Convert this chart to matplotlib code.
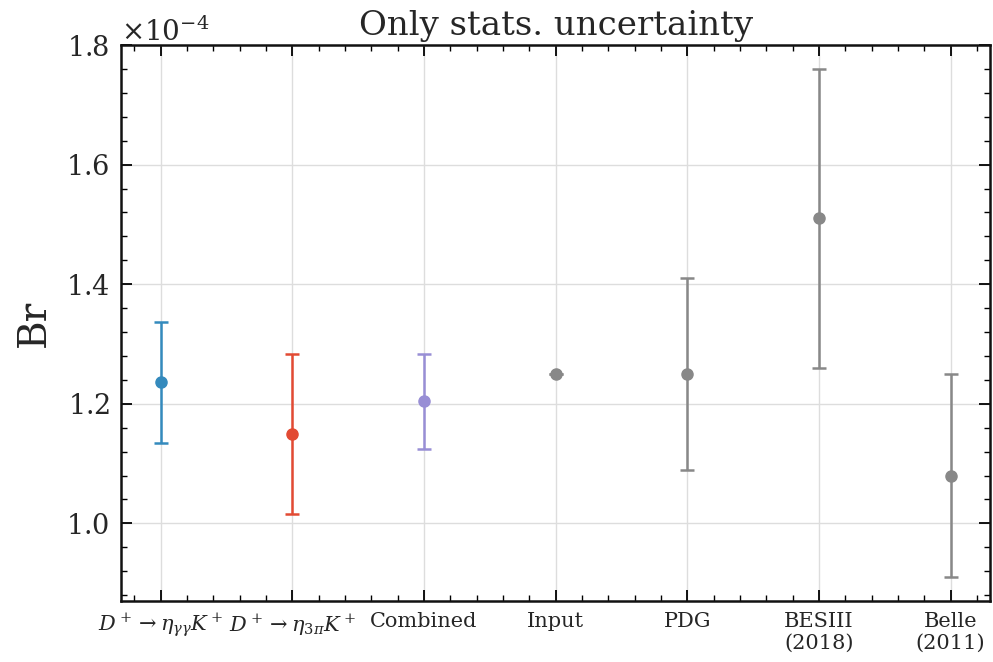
import matplotlib
matplotlib.use('Agg')
import matplotlib.pyplot as plt
from matplotlib.ticker import AutoMinorLocator, ScalarFormatter
import numpy as np

# data (in units of 1e-4)
labels = [r'$D^+ \to \eta_{\gamma\gamma} K^+$', r'$D^+ \to \eta_{3\pi} K^+$',
          'Combined', 'Input', 'PDG', 'BESIII\n(2018)', 'Belle\n(2011)']
values = [1.236, 1.149, 1.204, 1.25, 1.25, 1.51, 1.08]
errors = [0.101, 0.134, 0.080, 0.0, 0.16, 0.25, 0.17]
colors = ['#348ABD', '#E24A33', '#988ED5', '#888888', '#888888', '#888888', '#888888']

plt.rcParams['font.family'] = 'DejaVu Serif'
plt.rcParams['mathtext.fontset'] = 'dejavuserif'
plt.rcParams['text.color'] = '#262626'
plt.rcParams['axes.labelcolor'] = '#262626'
plt.rcParams['xtick.labelcolor'] = '#262626'
plt.rcParams['ytick.labelcolor'] = '#262626'

fig, ax = plt.subplots(figsize=(9.93, 6.62), dpi=100)

x = np.arange(len(labels))
for xi, v, e, c in zip(x, values, errors, colors):
    ax.errorbar(xi, v * 1e-4, yerr=e * 1e-4, fmt='o', color=c, ms=8,
                elinewidth=1.8, capsize=5, capthick=1.8)

ax.set_xlim(-0.3, 6.3)
ax.set_ylim(0.87e-4, 1.8e-4)
ax.set_xticks(x)
ax.set_xticklabels(labels)
ax.set_yticks(np.array([1.0, 1.2, 1.4, 1.6, 1.8]) * 1e-4)

fmt = ScalarFormatter(useMathText=True)
fmt.set_powerlimits((-3, 3))
ax.yaxis.set_major_formatter(fmt)
ax.yaxis.get_offset_text().set_fontsize(20)

ax.xaxis.set_minor_locator(AutoMinorLocator(5))
ax.yaxis.set_minor_locator(AutoMinorLocator(5))
ax.tick_params(which='both', direction='in', top=True, right=True)
ax.tick_params(which='major', length=8, width=1.3, labelsize=19.5)
ax.tick_params(axis='y', which='major', pad=8.5)
ax.tick_params(axis='x', which='major', labelsize=15, pad=8)
ax.tick_params(which='minor', length=4, width=1)
ax.grid(True, color='#dddddd', linewidth=1)
ax.set_axisbelow(True)
for s in ax.spines.values():
    s.set_linewidth(1.8)
    s.set_color('#111111')

ax.set_ylabel('Br', fontsize=28, labelpad=9)
ax.set_title('Only stats. uncertainty', fontsize=24.5, pad=7)

plt.subplots_adjust(left=0.122, right=0.997, top=0.932, bottom=0.092)
plt.savefig('out.png', dpi=100)
